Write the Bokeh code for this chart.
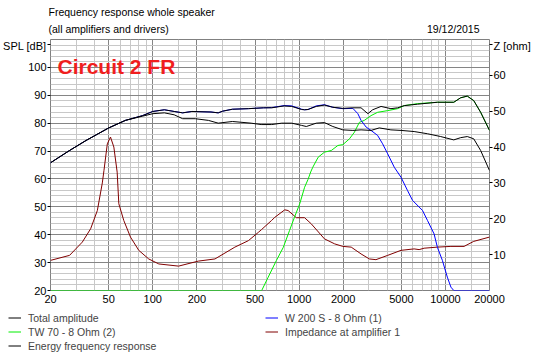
from bokeh.plotting import figure
from bokeh.layouts import column
from bokeh.models import (Range1d, LinearAxis, FixedTicker, Label, Legend,
                          LegendItem, PrintfTickFormatter)
from bokeh.core.properties import value
from bokeh.embed import file_html
from bokeh.resources import INLINE

# ---------------- data ----------------
total_freq = [20, 27, 35, 50, 65, 85, 100, 120, 140, 160, 185, 250, 280, 300, 350, 450, 570, 650, 790, 890,
              1040, 1090, 1150, 1310, 1490, 1700, 1990, 2330, 2650, 2950, 3180, 3630, 4240, 4710, 5230, 6440,
              8810, 11400, 12700, 14100, 15600, 17400, 20000]
total_spl = [65.8, 70.2, 73.8, 78.3, 81.0, 82.7, 84.2, 84.8, 84.2, 83.7, 84.2, 84.0, 83.7, 84.3, 85.0, 85.2, 85.5,
             85.5, 86.2, 86.0, 84.9, 84.8, 84.9, 86.0, 86.5, 85.7, 85.3, 85.5, 85.5, 83.4, 84.8, 86.0, 85.2, 85.5,
             86.3, 86.8, 87.5, 87.5, 89.1, 89.7, 88.1, 83.9, 77.4]

energy_freq = [20, 27, 35, 50, 65, 85, 100, 120, 140, 160, 195, 240, 280, 350, 470, 550, 650, 760, 890, 1040,
               1120, 1310, 1490, 1700, 1990, 2330, 2650, 3100, 3530, 4240, 4970, 6110, 7540, 9280, 11400, 12700,
               14100, 15600, 17400, 20000]
energy_spl = [65.8, 70.2, 73.8, 78.3, 81.0, 82.5, 83.4, 83.7, 83.0, 81.6, 81.6, 81.0, 80.0, 80.6, 80.0, 79.5, 79.5,
              80.0, 80.0, 79.2, 78.8, 80.0, 80.2, 78.8, 77.6, 77.4, 77.6, 77.4, 78.3, 77.6, 77.4, 77.0, 76.2, 75.2,
              74.0, 74.8, 75.2, 74.4, 70.2, 63.0]

woofer_freq = [20, 27, 35, 50, 65, 85, 100, 120, 140, 160, 185, 250, 280, 300, 350, 450, 570, 650, 790, 890,
               1040, 1090, 1150, 1310, 1490, 1700, 1990, 2330, 2520, 2650, 2870, 3100, 3440, 3720, 4030, 4470,
               4970, 5500, 5960, 6970, 7540, 8360, 8810, 9530, 10300, 10900, 11400, 20000]
woofer_spl = [65.8, 70.2, 73.8, 78.3, 81.0, 82.7, 84.2, 84.8, 84.2, 83.7, 84.2, 84.0, 83.7, 84.3, 85.0, 85.2, 85.5,
              85.6, 86.3, 86.2, 85.0, 84.8, 84.9, 86.2, 86.6, 85.7, 85.2, 85.3, 83.4, 81.0, 78.6, 77.4, 75.6, 72.6,
              69.0, 64.2, 60.6, 55.9, 52.3, 48.7, 45.1, 40.3, 35.5, 30.8, 24.8, 21.2, 20.0, 20.0]

tweeter_freq = [20, 555, 615, 700, 780, 860, 930, 1010, 1090, 1150, 1200, 1240, 1350, 1490, 1660, 1840, 1990,
                2210, 2390, 2580, 2790, 3100, 3440, 4030, 4710, 5230, 6440, 8810, 11400, 12700, 14100, 15600,
                17400, 20000]
tweeter_spl = [20.0, 20.0, 24.8, 30.8, 35.5, 41.5, 46.3, 51.1, 57.0, 59.8, 62.5, 64.2, 67.8, 69.6, 70.2, 72.0,
               72.3, 74.4, 76.8, 80.3, 81.0, 82.7, 83.9, 84.5, 85.2, 86.3, 87.0, 87.5, 87.5, 89.1, 89.7, 88.1,
               83.9, 77.4]

imp_freq = [20, 27, 33, 37.6, 41.8, 45.2, 46.4, 48.9, 51.4, 54.2, 57.1, 58.6, 63.4, 70.4, 80.2, 93.8, 110, 150,
            205, 266, 364, 450, 526, 554, 647, 682, 798, 841, 958, 1090, 1210, 1490, 1750, 1990, 2270, 2650,
            3020, 3350, 4030, 4970, 6110, 6610, 7150, 8810, 10900, 13400, 15600, 20000]
imp_ohm = [8.4, 9.8, 13.5, 17.2, 22.3, 30.0, 33.5, 40.9, 42.8, 40.0, 33.0, 24.2, 19.5, 14.9, 11.2, 8.8, 7.4, 6.8,
           8.2, 8.8, 12.1, 13.9, 16.2, 17.0, 19.5, 20.4, 22.5, 22.3, 20.3, 20.3, 18.6, 14.4, 13.0, 12.3, 12.1,
           10.2, 8.8, 8.6, 9.8, 11.2, 11.6, 11.4, 11.8, 12.1, 12.3, 12.3, 13.7, 14.9]

x_tick_values = [20, 50, 100, 200, 500, 1000, 2000, 5000, 10000, 20000]
x_tick_labels = ["20", "50", "100", "200", "500", "1000", "2000", "5000", "10000", "20000"]
x_grid_major = [50, 100, 200, 500, 1000, 2000, 5000, 10000]
x_grid_minor = [30, 40, 60, 70, 80, 90, 150, 300, 400, 600, 700, 800, 900, 1500, 3000, 4000, 6000, 7000,
                8000, 9000, 15000]
spl_ticks = [20, 30, 40, 50, 60, 70, 80, 90, 100]
spl_grid_major = [30, 40, 50, 60, 70, 80, 90, 100]
spl_grid_minor = [22, 24, 26, 28, 32, 34, 36, 38, 42, 44, 46, 48, 52, 54, 56, 58, 62, 64, 66, 68, 72, 74, 76,
                  78, 82, 84, 86, 88, 92, 94, 96, 98, 102, 104, 106, 108]
z_ticks = [10, 20, 30, 40, 50, 60]

series_names = ["Total amplitude", "W 200 S - 8 Ohm (1)", "TW 70 - 8 Ohm (2)",
                "Impedance at amplifier 1", "Energy frequency response"]
series_colors = ["black", "#0000ff", "#00ee00", "#800000", "black"]

title_line1 = "Frequency response whole speaker"
title_line2 = "(all amplifiers and drivers)"
date_text = "19/12/2015"
spl_axis_title = "SPL [dB]"
z_axis_title = "Z [ohm]"
circuit_text = "Circuit 2 FR"

FONT = "Liberation Sans"
FS = "10.5px"
W = 534


def blank(height, y_top, y_bottom):
    f = figure(width=W, height=height, x_range=Range1d(0, W), y_range=Range1d(y_bottom, y_top),
               output_backend="svg", toolbar_location=None, title=None,
               x_axis_location=None, y_axis_location=None, frame_align=False,
               min_border_left=0, min_border_right=0, min_border_top=0, min_border_bottom=0)
    f.outline_line_color = None
    f.background_fill_color = "white"
    f.border_fill_color = "white"
    f.xgrid.visible = False
    f.ygrid.visible = False
    return f


# ---------------- header (canvas pixel coordinates) ----------------
head = blank(39, 0, 39)
head.text(x=[48, 48], y=[11.5, 28], text=[title_line1, title_line2],
          text_font=value(FONT), text_font_size=value(FS), text_color="black",
          text_baseline="middle", text_align="left")
head.text(x=[479], y=[28], text=[date_text],
          text_font=value(FONT), text_font_size=value(FS), text_color="black",
          text_baseline="middle", text_align="right")

# ---------------- main chart ----------------
p = figure(width=W, height=272, x_axis_type="log", x_range=Range1d(20, 20000),
           y_range=Range1d(20, 110), output_backend="svg", toolbar_location=None, title=None,
           min_border_left=48, min_border_right=45, min_border_top=0, min_border_bottom=21)
p.background_fill_color = "white"
p.border_fill_color = "white"
p.outline_line_color = "#808080"
p.extra_y_ranges = {"z": Range1d(0, 70)}

p.xgrid.ticker = FixedTicker(ticks=x_grid_major, minor_ticks=x_grid_minor)
p.xgrid.grid_line_color = "#858585"
p.xgrid.minor_grid_line_color = "#c8c8c8"
p.ygrid.ticker = FixedTicker(ticks=spl_grid_major, minor_ticks=spl_grid_minor)
p.ygrid.grid_line_color = "#858585"
p.ygrid.minor_grid_line_color = "#c8c8c8"

xa = p.xaxis[0]
xa.ticker = FixedTicker(ticks=x_tick_values, minor_ticks=[])
xa.formatter = PrintfTickFormatter(format="%d")
xa.major_label_overrides = {v: t for v, t in zip(x_tick_values, x_tick_labels)}
xa.major_tick_out = 0
xa.major_tick_in = 0
xa.major_label_standoff = 4

# the axis titles sit level with the top of the frame, as in the reference
spl_title_pos = 108.2
z_title_pos = 68.6
ya = p.yaxis[0]
ya.ticker = FixedTicker(ticks=spl_ticks + [spl_title_pos], minor_ticks=[])
ya.major_label_overrides = {spl_title_pos: spl_axis_title}
ya.major_tick_out = 3
ya.major_tick_in = 0
ya.major_label_standoff = 1

za = LinearAxis(y_range_name="z", ticker=FixedTicker(ticks=z_ticks + [z_title_pos], minor_ticks=[]))
za.major_label_overrides = {z_title_pos: z_axis_title}
za.major_tick_out = 3
za.major_tick_in = 0
za.major_label_standoff = 1
p.add_layout(za, "right")

for ax in (xa, ya, za):
    ax.major_label_text_font = FONT
    ax.major_label_text_font_size = "11px"
    ax.major_label_text_color = "black"
    ax.minor_tick_line_color = None
    ax.axis_line_color = None
xa.major_tick_line_color = None
ya.major_tick_line_color = "black"
za.major_tick_line_color = "black"

p.line(imp_freq, imp_ohm, y_range_name="z", line_color=series_colors[3], line_width=1)
p.line(tweeter_freq, tweeter_spl, line_color=series_colors[2], line_width=1)
p.line(woofer_freq, woofer_spl, line_color=series_colors[1], line_width=1)
p.line(energy_freq, energy_spl, line_color=series_colors[4], line_width=1)
p.line(total_freq, total_spl, line_color=series_colors[0], line_width=1)

p.add_layout(Label(x=7, y=224.2, x_units="screen", y_units="screen", text=circuit_text,
                   text_font=FONT, text_font_size="21px", text_font_style="bold",
                   text_color="#f01e1e", text_baseline="middle"))

# ---------------- footer legend ----------------
foot = blank(43, 311, 354)
nan = float("nan")
items = []
for name, col in zip(series_names, series_colors):
    r = foot.line(x=[nan], y=[nan], line_color=col, line_width=1)
    items.append(LegendItem(label=name, renderers=[r]))
legend = Legend(items=items, location=(8, 2), ncols=2, orientation="horizontal")
legend.label_text_font = FONT
legend.label_text_font_size = FS
legend.label_standoff = 7
legend.glyph_width = 13
legend.glyph_height = 13
legend.label_height = 13
legend.label_width = 236
legend.spacing = 1
legend.padding = 0
legend.margin = 0
legend.border_line_color = None
legend.background_fill_alpha = 0
foot.add_layout(legend)

layout = column(head, p, foot, spacing=0)
open("out.html", "w").write(file_html(layout, INLINE))
